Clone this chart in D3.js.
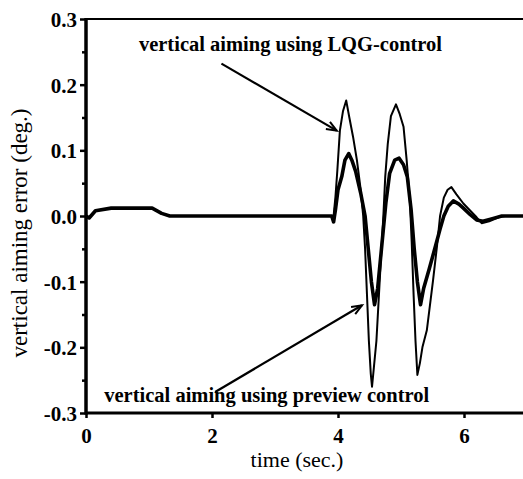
<!DOCTYPE html>
<html>
<head>
<meta charset="utf-8">
<script src="https://cdn.jsdelivr.net/npm/d3@7"></script>
<style>
  body { margin: 0; background: #fff; }
  svg { display: block; }
  text { font-family: "Liberation Serif", "Times New Roman", serif; fill: #000; }
  .tick text { font-size: 21px; font-weight: bold; }
  .axis-title { font-size: 22px; }
  .y-title { font-size: 23px; }
  .note { font-size: 20.5px; font-weight: bold; }
</style>
</head>
<body>
<svg id="chart"></svg>
<script>
// vertical aiming error, LQG-control (thin trace)
const lqgTime = [0, 0.05, 0.15, 0.4, 1.05, 1.2, 1.33, 3.9, 3.93, 3.96, 3.99, 4.03, 4.08, 4.13, 4.18, 4.24,
  4.30, 4.36, 4.40, 4.43, 4.46, 4.49, 4.52, 4.54, 4.57, 4.61, 4.65, 4.69, 4.72, 4.75, 4.79, 4.84,
  4.92, 4.98, 5.04, 5.09, 5.14, 5.17, 5.20, 5.23, 5.26, 5.30, 5.34, 5.41, 5.51, 5.57, 5.62, 5.68,
  5.74, 5.80, 5.88, 5.99, 6.10, 6.20, 6.28, 6.40, 6.55, 6.65, 7.0];
const lqgError = [0, -0.003, 0.008, 0.012, 0.012, 0.004, 0, 0, 0.0, 0.03, 0.07, 0.13, 0.16, 0.176, 0.15, 0.12,
  0.085, 0.04, 0.0, -0.05, -0.12, -0.19, -0.24, -0.26, -0.23, -0.19, -0.12, -0.05, 0.0, 0.06, 0.11, 0.152,
  0.17, 0.155, 0.136, 0.085, 0.024, -0.04, -0.12, -0.19, -0.242, -0.224, -0.2, -0.174, -0.097, -0.047, 0.0, 0.028,
  0.04, 0.044, 0.033, 0.019, 0.008, -0.002, -0.011, -0.008, -0.002, 0.0, 0.0];

// vertical aiming error, preview control (thick trace)
const previewTime = [0, 0.05, 0.15, 0.4, 1.05, 1.2, 1.33, 3.9, 3.93, 3.96, 4.00, 4.06, 4.11, 4.17, 4.22, 4.28,
  4.36, 4.43, 4.48, 4.53, 4.58, 4.63, 4.69, 4.76, 4.82, 4.90, 4.97, 5.04, 5.10, 5.16, 5.21, 5.26,
  5.31, 5.36, 5.45, 5.55, 5.62, 5.68, 5.75, 5.83, 5.92, 5.99, 6.10, 6.20, 6.30, 6.45, 6.60, 7.0];
const previewError = [0, -0.003, 0.008, 0.012, 0.012, 0.004, 0, 0, -0.009, 0.01, 0.04, 0.06, 0.085, 0.095, 0.085, 0.068,
  0.035, 0.0, -0.05, -0.1, -0.135, -0.11, -0.05, 0.02, 0.065, 0.085, 0.088, 0.078, 0.06, 0.01, -0.05, -0.10,
  -0.135, -0.11, -0.08, -0.045, -0.02, 0.0, 0.015, 0.023, 0.018, 0.012, 0.002, -0.006, -0.008, -0.004, 0.0, 0.0];

const xTicks = [0, 2, 4, 6];
const yTicks = [-0.3, -0.2, -0.1, 0.0, 0.1, 0.2, 0.3];
const yMinorTicks = [-0.25, -0.15, -0.05, 0.05, 0.15, 0.25];

// annotations: label, label anchor (time, error), arrow from -> to (time, error)
const noteLabels = ['vertical aiming using LQG-control', 'vertical aiming using preview control'];
const noteAt = [[0.84, 0.252], [0.29, -0.284]];
const arrowFrom = [[2.15, 0.232], [2.05, -0.268]];
const arrowTo = [[3.98, 0.130], [4.38, -0.136]];

const width = 523, height = 479;
const margin = {top: 19, right: -4, bottom: 66, left: 86};

const svg = d3.select('#chart')
    .attr('width', width)
    .attr('height', height);

const x = d3.scaleLinear()
    .domain([0, 7])
    .range([margin.left, width - margin.right]);

const y = d3.scaleLinear()
    .domain([-0.3, 0.3])
    .range([height - margin.bottom, margin.top]);

// axes
const xAxis = d3.axisBottom(x)
    .tickValues(xTicks)
    .tickFormat(d => d)
    .tickSize(5)
    .tickSizeOuter(0)
    .tickPadding(10);

const yAxis = d3.axisLeft(y)
    .tickValues(yTicks)
    .tickFormat(d => d.toFixed(1))
    .tickSize(6)
    .tickSizeOuter(0)
    .tickPadding(3);

const yMinor = d3.axisLeft(y)
    .tickValues(yMinorTicks)
    .tickFormat('')
    .tickSize(4)
    .tickSizeOuter(0);

svg.append('g')
    .attr('transform', `translate(0,${y(-0.3)})`)
    .call(xAxis)
    .call(g => g.select('.domain').remove())
    .call(g => g.selectAll('.tick line').attr('stroke', '#000').attr('stroke-width', 2.5))
    .call(g => g.selectAll('.tick text').attr('fill', '#000'));

svg.append('g')
    .attr('transform', `translate(${x(0)},0)`)
    .call(yAxis)
    .call(g => g.select('.domain').remove())
    .call(g => g.selectAll('.tick line').attr('stroke', '#000').attr('stroke-width', 2.5))
    .call(g => g.selectAll('.tick text').attr('fill', '#000').attr('dy', '0.36em'));

svg.append('g')
    .attr('transform', `translate(${x(0)},0)`)
    .call(yMinor)
    .call(g => g.select('.domain').remove())
    .call(g => g.selectAll('.tick line').attr('stroke', '#000').attr('stroke-width', 2.5));

// frame lines: thin top, heavy left and bottom
svg.append('line')
    .attr('x1', x(0)).attr('x2', width)
    .attr('y1', y(0.3)).attr('y2', y(0.3))
    .attr('stroke', '#000').attr('stroke-width', 2);

svg.append('line')
    .attr('x1', x(0)).attr('x2', width)
    .attr('y1', y(-0.3)).attr('y2', y(-0.3))
    .attr('stroke', '#000').attr('stroke-width', 3);

svg.append('line')
    .attr('x1', x(0)).attr('x2', x(0))
    .attr('y1', y(0.3) - 1).attr('y2', y(-0.3) + 1.5)
    .attr('stroke', '#000').attr('stroke-width', 3.5);

// traces
const line = d3.line()
    .x(d => x(d[0]))
    .y(d => y(d[1]));

svg.append('path')
    .datum(d3.zip(previewTime, previewError))
    .attr('fill', 'none')
    .attr('stroke', '#000')
    .attr('stroke-width', 3.6)
    .attr('stroke-linejoin', 'round')
    .attr('d', line);

svg.append('path')
    .datum(d3.zip(lqgTime, lqgError))
    .attr('fill', 'none')
    .attr('stroke', '#000')
    .attr('stroke-width', 2)
    .attr('stroke-linejoin', 'round')
    .attr('d', line);

// annotations with arrows
noteLabels.forEach((label, i) => {
  svg.append('text')
      .attr('class', 'note')
      .attr('x', x(noteAt[i][0]))
      .attr('y', y(noteAt[i][1]))
      .text(label);

  const x1 = x(arrowFrom[i][0]), y1 = y(arrowFrom[i][1]);
  const x2 = x(arrowTo[i][0]), y2 = y(arrowTo[i][1]);
  svg.append('line')
      .attr('x1', x1).attr('y1', y1)
      .attr('x2', x2).attr('y2', y2)
      .attr('stroke', '#000').attr('stroke-width', 2.2);

  const ang = Math.atan2(y2 - y1, x2 - x1);
  const len = 11, spread = 0.38;
  const head = [ang - spread, ang + spread].map(a => [x2 - len * Math.cos(a), y2 - len * Math.sin(a)]);
  svg.append('path')
      .attr('d', `M${head[0][0]},${head[0][1]}L${x2},${y2}L${head[1][0]},${head[1][1]}`)
      .attr('fill', 'none')
      .attr('stroke', '#000')
      .attr('stroke-width', 2);
});

// axis titles
svg.append('text')
    .attr('class', 'axis-title')
    .attr('x', 297)
    .attr('y', 467)
    .attr('text-anchor', 'middle')
    .text('time (sec.)');

svg.append('text')
    .attr('class', 'y-title')
    .attr('transform', 'translate(27,233) rotate(-90)')
    .attr('text-anchor', 'middle')
    .text('vertical aiming error (deg.)');
</script>
</body>
</html>
